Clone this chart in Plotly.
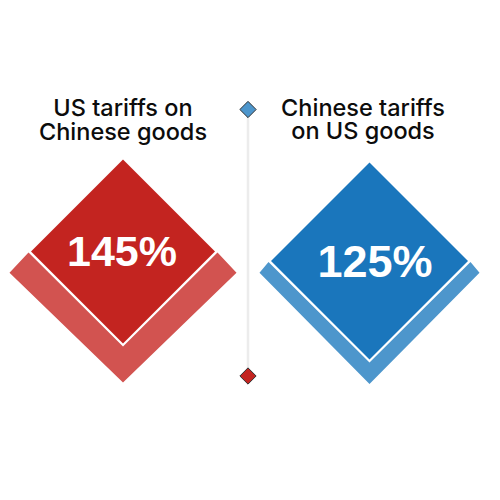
import plotly.graph_objects as go

# chart values
countries = ["US", "China"]
tariffs = [145, 125]
title_lines = [
    ["US tariffs on", "Chinese goods"],
    ["Chinese tariffs", "on US goods"],
]
dark_colors = ["#c32420", "#1a76bc"]
light_colors = ["#d25350", "#4d96cc"]

# diamond geometry, in page pixels
center_x = [123, 369.5]
top_y = [159.5, 162.5]
inner_half = [92, 98.5]
outer_half = [113.5, 110]
outer_mid_y = [272.7, 272.7]
outer_bottom = [382.5, 384]
title_x = [123, 363]
title_y = [[110.5, 134], [110, 133.5]]
label_x = [122, 375]
label_y = [255, 266]
label_size = [43, 45]

spine_x = 248
spine_ends = [109.5, 376]
gap = 2.5

# the page body has an 8px margin, so the axes start at 8 to stay in page pixels
page_margin = 8
page_size = 500

fig = go.Figure()

# line between the two panels
fig.add_trace(
    go.Scatter(
        x=[spine_x, spine_x],
        y=spine_ends,
        mode="lines",
        line=dict(color="#ececec", width=2.5),
        hoverinfo="skip",
    )
)
fig.add_trace(
    go.Scatter(
        x=[spine_x, spine_x],
        y=spine_ends,
        mode="markers",
        marker=dict(
            symbol="diamond",
            size=12.5,
            color=[light_colors[1], dark_colors[0]],
            line=dict(color="#333333", width=1),
        ),
        hoverinfo="skip",
    )
)

for i, country in enumerate(countries):
    cx = center_x[i]
    mid = top_y[i] + inner_half[i]

    # lighter chevron under the main diamond
    fig.add_trace(
        go.Scatter(
            x=[cx - outer_half[i], cx, cx + outer_half[i],
               cx + inner_half[i] + gap, cx, cx - inner_half[i] - gap, cx - outer_half[i]],
            y=[outer_mid_y[i], outer_bottom[i], outer_mid_y[i],
               mid + 1, mid + inner_half[i] + 3, mid + 1, outer_mid_y[i]],
            mode="lines",
            fill="toself",
            fillcolor=light_colors[i],
            line=dict(width=0),
            name=country,
        )
    )
    # main diamond
    fig.add_trace(
        go.Scatter(
            x=[cx, cx + inner_half[i], cx, cx - inner_half[i], cx],
            y=[top_y[i], mid, mid + inner_half[i], mid, top_y[i]],
            mode="lines",
            fill="toself",
            fillcolor=dark_colors[i],
            line=dict(width=0),
            name=country,
        )
    )
    fig.add_trace(
        go.Scatter(
            x=[label_x[i]],
            y=[label_y[i]],
            mode="text",
            text=[f"{tariffs[i]}%"],
            textposition="middle center",
            textfont=dict(family="Liberation Sans", size=label_size[i], color="white", weight=700),
            hoverinfo="skip",
        )
    )
    # title lines are drawn one by one to keep the tight leading
    fig.add_trace(
        go.Scatter(
            x=[title_x[i], title_x[i]],
            y=title_y[i],
            mode="text",
            text=title_lines[i],
            textposition="middle center",
            textfont=dict(family="Inter", size=23.5, color="#0c0c0c", weight=500),
            hoverinfo="skip",
        )
    )

fig.update_layout(
    width=page_size - page_margin,
    height=page_size - page_margin,
    margin=dict(l=0, r=0, t=0, b=0),
    paper_bgcolor="white",
    plot_bgcolor="white",
    showlegend=False,
    xaxis=dict(range=[page_margin, page_size], visible=False, fixedrange=True),
    yaxis=dict(range=[page_size, page_margin], visible=False, fixedrange=True),
)

fig.write_html("out.html")
